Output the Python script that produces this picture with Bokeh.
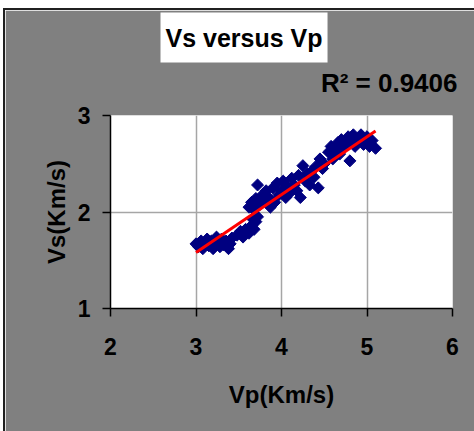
import numpy as np
from bokeh.plotting import figure
from bokeh.models import Title, FixedTicker, Range1d
from bokeh.embed import file_html
from bokeh.resources import INLINE

# P-wave and S-wave velocities (Km/s)
vp = [3.00, 3.03, 3.06, 3.08, 3.10, 3.13, 3.15, 3.18, 3.20, 3.22, 3.24, 3.26,
      3.28, 3.30, 3.32, 3.35, 3.38, 3.40, 3.42,
      3.48, 3.52, 3.55, 3.58, 3.62, 3.65, 3.68, 3.70, 3.72, 3.66,
      3.62, 3.65, 3.68, 3.70, 3.72, 3.75, 3.78, 3.80, 3.82, 3.85, 3.87, 3.90,
      3.92, 3.95, 3.97, 4.00, 4.02, 4.05, 4.08, 4.10, 4.12, 4.15, 4.18, 4.20,
      4.22, 4.25, 4.28, 4.30, 4.33, 4.35, 4.38, 4.40, 4.43, 4.45, 4.48, 4.50,
      4.55, 4.58, 4.60, 4.63, 4.66, 4.68, 4.70, 4.72, 4.75, 4.78, 4.80, 4.82,
      4.84, 4.86, 4.90, 4.93, 4.96, 5.00, 5.03, 5.06, 5.10]
vs = [1.67, 1.64, 1.70, 1.62, 1.68, 1.72, 1.65, 1.70, 1.62, 1.67, 1.74, 1.69,
      1.64, 1.72, 1.66, 1.70, 1.62, 1.67, 1.73,
      1.76, 1.80, 1.74, 1.82, 1.78, 1.86, 1.82, 1.90, 1.95, 1.93,
      2.05, 2.10, 2.02, 2.14, 2.28, 2.08, 2.18, 2.12, 2.22, 2.15, 2.05, 2.25,
      2.10, 2.30, 2.18, 2.22, 2.32, 2.15, 2.26, 2.20, 2.35, 2.28, 2.22, 2.38,
      2.15, 2.48, 2.32, 2.40, 2.28, 2.42, 2.36, 2.47, 2.25, 2.55, 2.45, 2.50,
      2.62, 2.68, 2.55, 2.65, 2.72, 2.60, 2.75, 2.66, 2.70, 2.78, 2.53, 2.72,
      2.80, 2.68, 2.76, 2.80, 2.70, 2.78, 2.68, 2.74, 2.66]

# linear trendline Vs = slope * Vp + intercept
trend_slope = 0.60
trend_intercept = -0.22
r_squared = "0.9406"

x_ticks = [2, 3, 4, 5, 6]
y_ticks = [1, 2, 3]

FONT = "Liberation Sans"
GRAY = "#808080"
W, H = 469, 421

p = figure(width=W, height=H, output_backend="svg", toolbar_location=None,
           x_range=Range1d(2, 6), y_range=Range1d(1, 3),
           min_border_left=105, min_border_right=22,
           min_border_top=104, min_border_bottom=123,
           background_fill_color="white", border_fill_color=GRAY,
           outline_line_color=None, margin=(10, 0, 0, 5),
           styles={"box-shadow": "-1px -1px 0 1px #202020"})

for ax in (p.xaxis[0], p.yaxis[0]):
    ax.axis_line_color = "black"
    ax.axis_line_width = 1.5
    ax.major_tick_line_color = "black"
    ax.major_tick_line_width = 1.5
    ax.major_tick_out = 8
    ax.major_tick_in = 0
    ax.minor_tick_line_color = None
    ax.major_label_text_font = FONT
    ax.major_label_text_font_style = "bold"
    ax.major_label_text_font_size = "23px"
    ax.major_label_text_color = "black"
    ax.axis_label_text_font = FONT
    ax.axis_label_text_font_style = "bold"
    ax.axis_label_text_font_size = "24px"
    ax.axis_label_text_color = "black"

p.xaxis.ticker = FixedTicker(ticks=x_ticks)
p.yaxis.ticker = FixedTicker(ticks=y_ticks)
p.xaxis.axis_label = "Vp(Km/s)"
p.yaxis.axis_label = "Vs(Km/s)"
p.xaxis.major_label_standoff = 21
p.yaxis.major_label_standoff = 12
p.xaxis.axis_label_standoff = 23
p.yaxis.axis_label_standoff = 5

p.grid.grid_line_color = "#a6a6a6"
p.grid.grid_line_width = 1.5

# measured samples as navy diamonds
p.scatter(vp, vs, marker="square", angle=np.pi / 4, size=8.5,
          fill_color="#000080", line_color="#000080")

# trendline across the sampled Vp range
x_fit = [min(vp), max(vp)]
y_fit = [trend_slope * v + trend_intercept for v in x_fit]
p.line(x_fit, y_fit, line_color="red", line_width=3)

# header stack above the plot area (nearest first): a small gap,
# the trendline's R², then the chart title in a white box
p.title = Title(text="Vs versus Vp", align="left", offset=50,
                standoff=0, text_font=FONT, text_font_style="bold",
                text_font_size="25px", text_color="black",
                background_fill_color="white", padding=(5, 11))
p.add_layout(Title(text=" ", text_font_size="1px", standoff=12), "above")
p.add_layout(Title(text="R\u00b2 = " + r_squared, align="right", offset=-5,
                   standoff=6, text_font=FONT, text_font_style="bold",
                   text_font_size="26px", text_color="black"), "above")

open("out.html", "w").write(file_html(p, INLINE))
